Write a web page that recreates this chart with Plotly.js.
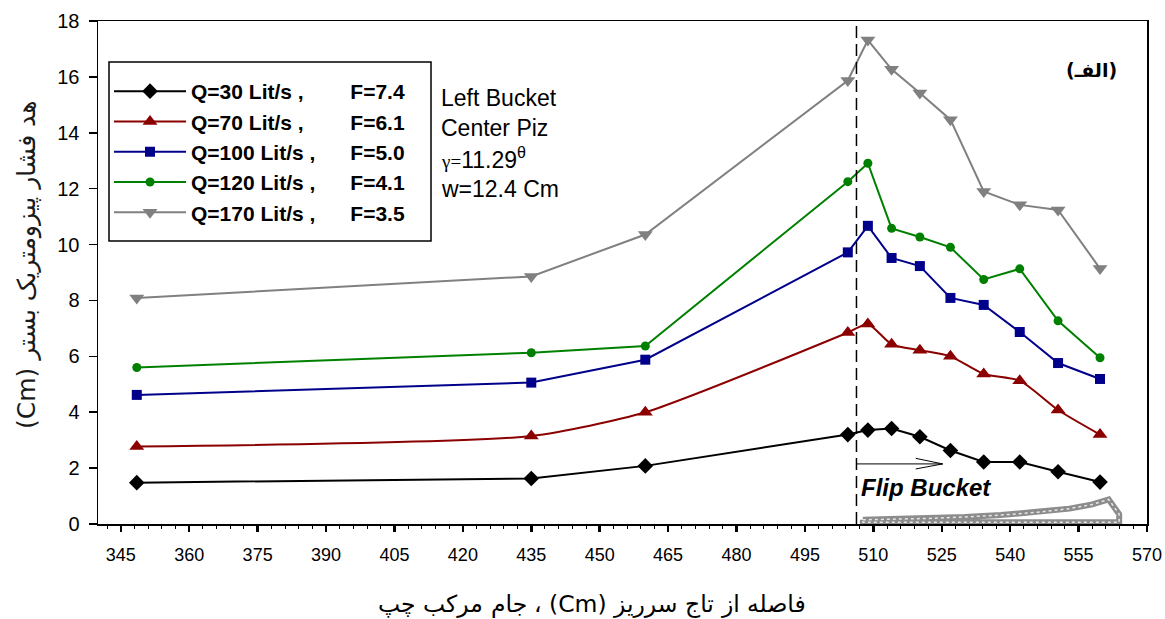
<!DOCTYPE html>
<html>
<head>
<meta charset="utf-8">
<script src="https://cdn.plot.ly/plotly-3.0.1.min.js"></script>
<style>html,body{margin:0;padding:0;background:#fff;}#chart{width:1165px;height:619px;}</style>
</head>
<body>
<div id="chart"></div>
<script>
// ---- data ----
const xPos = [348.5, 435, 460, 504.4, 508.8, 514, 520.2, 526.9, 534.2, 542.1, 550.5, 559.7];
const q30  = [1.48, 1.63, 2.08, 3.20, 3.36, 3.42, 3.12, 2.63, 2.22, 2.22, 1.87, 1.50];
const q70  = [2.77, 3.15, 4.00, 6.85, 7.16, 6.43, 6.22, 6.00, 5.37, 5.13, 4.08, 3.20];
const q100 = [4.62, 5.06, 5.88, 9.72, 10.67, 9.52, 9.23, 8.09, 7.84, 6.87, 5.76, 5.19];
const q120 = [5.60, 6.13, 6.37, 12.25, 12.91, 10.58, 10.27, 9.90, 8.75, 9.13, 7.27, 5.95];
const q170 = [8.09, 8.86, 10.36, 15.87, 17.32, 16.27, 15.42, 14.47, 11.90, 11.42, 11.24, 9.14];
const seriesNames = [
  "Q=30 Lit/s ,\u00a0\u00a0\u00a0\u00a0\u00a0\u00a0\u00a0 F=7.4",
  "Q=70 Lit/s ,\u00a0\u00a0\u00a0\u00a0\u00a0\u00a0\u00a0 F=6.1",
  "Q=100 Lit/s ,\u00a0\u00a0\u00a0\u00a0\u00a0 F=5.0",
  "Q=120 Lit/s ,\u00a0\u00a0\u00a0\u00a0\u00a0 F=4.1",
  "Q=170 Lit/s ,\u00a0\u00a0\u00a0\u00a0\u00a0 F=3.5"
];
// flip bucket profile (schematic outline drawn at the bottom)
const bucketX = [507.7, 515, 522, 530, 538, 546, 553, 558, 561.6, 563.9, 563.9, 507.7, 507.7];
const bucketY = [0.15, 0.17, 0.2, 0.25, 0.32, 0.42, 0.55, 0.7, 0.88, 0.35, 0.06, 0.06, 0.15];
const flipStart = 506.3;   // dashed line position (start of flip bucket)
const arrowEnd = 525.2;
const arrowLevel = 2.15;
const xTicks = [345,360,375,390,405,420,435,450,465,480,495,510,525,540,555,570];
const yTicks = [0,2,4,6,8,10,12,14,16,18];
// x-axis title words in reading order (laid out right to left)
const xTitleWords = ['فاصله', 'از', 'تاج', 'سرریز', '(Cm)', '،', 'جام', 'مرکب', 'چپ'];

const FONT = 'Liberation Sans, Arial, sans-serif';
const AR = 'DejaVu Sans, Noto Sans, sans-serif';

// plot-area geometry (pixels) used to place paper-referenced texts
const PL = 98, PW = 1049, PT = 21, PH = 503, PB = PT + PH;

const styles = [
  {color:'#000000', symbol:'diamond', size:12, shape:'linear'},
  {color:'#8B0000', symbol:'triangle-up', size:13, shape:'spline'},
  {color:'#00008B', symbol:'square', size:10, shape:'linear'},
  {color:'#008000', symbol:'circle', size:9, shape:'linear'},
  {color:'#808080', symbol:'triangle-down', size:13, shape:'linear'}
];
const ys = [q30, q70, q100, q120, q170];

const traces = ys.map((y, i) => ({
  x: xPos, y: y, type: 'scatter', mode: 'lines+markers',
  name: seriesNames[i],
  line: {color: styles[i].color, width: 2, shape: styles[i].shape, smoothing: 0.6},
  marker: {color: styles[i].color, symbol: styles[i].symbol, size: styles[i].size}
}));
traces.push({
  x: bucketX, y: bucketY, type: 'scatter', mode: 'lines', showlegend: false,
  line: {color: '#8c8c8c', width: 6}
});
traces.push({
  x: bucketX, y: bucketY, type: 'scatter', mode: 'lines', showlegend: false,
  line: {color: '#e6e6e6', width: 1.5, dash: 'dot'}
});

// lay the x-title words out right to left, one text per word
const xTitleSize = 23.5;
const ctx = document.createElement('canvas').getContext('2d');
ctx.font = xTitleSize + 'px "DejaVu Sans"';
const spaceW = ctx.measureText(' ').width;
const wordW = xTitleWords.map(w => ctx.measureText(w).width);
const totalW = wordW.reduce((a, b) => a + b, 0) + spaceW * (xTitleWords.length - 1);
let cursor = 593 + totalW / 2;
const xTitleAnnots = xTitleWords.map((w, i) => {
  const a = {xref: 'paper', yref: 'paper', x: (cursor - PL) / PW, y: -(604 - PB) / PH,
    xanchor: 'right', yanchor: 'middle', showarrow: false, borderpad: 0,
    text: w, font: {family: AR, size: xTitleSize, color: '#000'}};
  cursor -= wordW[i] + spaceW;
  return a;
});

const layout = {
  width: 1165, height: 619,
  margin: {l: PL, r: 1165 - PL - PW, t: PT, b: 619 - PB},
  paper_bgcolor: '#fff', plot_bgcolor: '#fff',
  font: {family: FONT, color: '#000'},
  showlegend: true,
  legend: {
    x: 0.0105, y: 0.9006, xanchor: 'left', yanchor: 'top',
    bgcolor: 'rgba(0,0,0,0)', borderwidth: 0,
    font: {family: FONT, size: 21, color: '#000', weight: 'bold'},
    traceorder: 'normal', itemwidth: 72
  },
  xaxis: {
    range: [340, 570], tickvals: xTicks, ticktext: xTicks.map(String),
    showline: true, linecolor: '#000', linewidth: 1.5, mirror: true,
    ticks: 'outside', ticklen: 6, tickwidth: 2.5, tickcolor: '#000',
    tickfont: {family: FONT, size: 18, color: '#000'}, ticklabelstandoff: 8,
    minor: {dtick: 3, tick0: 345, ticks: 'outside', ticklen: 3, tickwidth: 1, tickcolor: '#000', showgrid: false},
    showgrid: false, zeroline: false
  },
  yaxis: {
    range: [0, 18], tickvals: yTicks, ticktext: yTicks.map(String),
    showline: true, linecolor: '#000', linewidth: 1.5, mirror: true,
    ticks: 'outside', ticklen: 8, tickwidth: 1.5, tickcolor: '#000',
    tickfont: {family: FONT, size: 20, color: '#000'}, ticklabelstandoff: 5,
    showgrid: false, zeroline: false
  },
  shapes: [
    {type: 'rect', xref: 'paper', yref: 'paper', layer: 'above',
     x0: (109 - PL) / PW, x1: (431 - PL) / PW, y0: (PB - 241) / PH, y1: (PB - 62) / PH,
     line: {color: '#000', width: 1.5}, fillcolor: 'rgba(255,255,255,0)'},
    {type: 'line', xref: 'x', yref: 'paper', x0: flipStart, x1: flipStart, y0: 0, y1: 1,
     line: {color: '#000', width: 1.5, dash: '12px,6px'}},
    {type: 'line', xref: 'x', yref: 'y', x0: flipStart, x1: arrowEnd, y0: arrowLevel, y1: arrowLevel,
     line: {color: '#000', width: 1}},
    {type: 'path', xref: 'x', yref: 'y',
     path: 'M ' + (arrowEnd - 5.9) + ',' + (arrowLevel + 0.2) + ' L ' + arrowEnd + ',' + arrowLevel + ' L ' + (arrowEnd - 5.9) + ',' + (arrowLevel - 0.18),
     line: {color: '#000', width: 1}}
  ],
  annotations: [
    {xref: 'paper', yref: 'paper', x: 0.325, y: 0.847, xanchor: 'left', yanchor: 'middle', showarrow: false,
     text: 'Left Bucket', font: {family: FONT, size: 23, color: '#000'}},
    {xref: 'paper', yref: 'paper', x: 0.325, y: 0.787, xanchor: 'left', yanchor: 'middle', showarrow: false,
     text: 'Center Piz', font: {family: FONT, size: 23, color: '#000'}},
    {xref: 'paper', yref: 'paper', x: 0.325, y: 0.7276, xanchor: 'left', yanchor: 'middle', showarrow: false,
     text: "<span style='font-family:Liberation Serif,serif;font-size:19px'>γ=</span>11.29<sup>θ</sup>", font: {family: FONT, size: 23, color: '#000'}},
    {xref: 'paper', yref: 'paper', x: 0.325, y: 0.666, xanchor: 'left', yanchor: 'middle', showarrow: false,
     text: 'w=12.4 Cm', font: {family: FONT, size: 23, color: '#000'}},
    {xref: 'paper', yref: 'paper', x: 0.947, y: 0.902, xanchor: 'center', yanchor: 'middle', showarrow: false,
     text: '(الفـ)', font: {family: AR, size: 19, color: '#000', weight: 'bold'}},
    {xref: 'x', yref: 'y', x: flipStart + 0.6, y: 1.3, xanchor: 'left', yanchor: 'middle', showarrow: false,
     text: '<b><i>Flip Bucket</i></b>', font: {family: FONT, size: 24, color: '#000'}},
    {xref: 'paper', yref: 'paper', x: -(PL - 27) / PW, y: (PB - 265) / PH, xanchor: 'center', yanchor: 'middle', showarrow: false,
     textangle: -90,
     text: '(Cm) هد فشار پیزومتریک بستر',
     font: {family: AR, size: 25, color: '#1a1a1a'}}
  ].concat(xTitleAnnots)
};

Plotly.newPlot('chart', traces, layout, {displayModeBar: false, staticPlot: true});
</script>
</body>
</html>
